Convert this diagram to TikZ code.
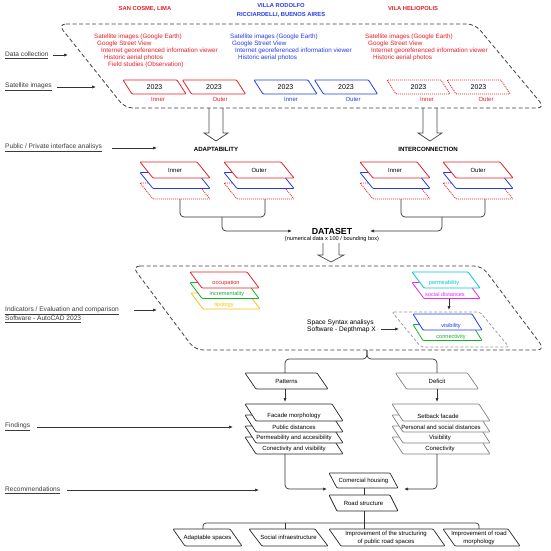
\documentclass[tikz,border=0pt]{standalone}
\usepackage{fontspec}
\setmainfont{Liberation Sans}
\usetikzlibrary{arrows.meta}
\definecolor{myred}{RGB}{232,30,40}
\definecolor{myblue}{RGB}{35,60,240}
\definecolor{mygreen}{RGB}{20,180,40}
\definecolor{myyellow}{RGB}{255,190,20}
\definecolor{mycyan}{RGB}{0,200,210}
\definecolor{mymag}{RGB}{240,40,240}
\definecolor{sidegray}{RGB}{60,60,60}
\newcommand\PG[6]{\filldraw[#1] (#2,#3) -- ++(#4,0) -- ++(#6,#5) -- ++(-#4,0) -- cycle;}
\newcommand\HA[5]{\draw[hollow] (#1,#3) -- (#1,#4) -- ({#1-5},#4) -- ({(#1+#2)/2},#5) -- ({#2+5},#4) -- (#2,#4) -- (#2,#3);}
\tikzset{
 txt/.style={font=\fontsize{6}{7.5}\selectfont, inner sep=0pt, align=center},
 small/.style={font=\fontsize{5.6}{6.5}\selectfont, inner sep=0pt},
 num/.style={font=\fontsize{7}{8}\selectfont, inner sep=0pt},
 lst/.style={font=\fontsize{6.3}{7}\selectfont, inner sep=0pt, anchor=west},
 head/.style={font=\fontsize{5.8}{9}\selectfont\bfseries, inner sep=0pt, align=center},
 side/.style={font=\fontsize{6.6}{9}\selectfont, text=sidegray, inner sep=0pt, anchor=west, align=left},
 conn/.style={draw=black!80, line width=0.7pt},
 arr/.style={conn, -{Latex[length=4pt,width=3.2pt]}},
 bigdash/.style={draw=black!75, line width=0.8pt, dash pattern=on 4pt off 2.5pt, rounded corners=8pt},
 layer/.style={fill=white, line width=0.8pt, rounded corners=0.8pt},
 redl/.style={layer, draw=myred},
 bluel/.style={layer, draw=myblue},
 dotl/.style={layer, draw=myred, dash pattern=on 1pt off 1pt},
 patl/.style={layer, draw=black!85, line width=0.7pt},
 defl/.style={layer, draw=black!50, line width=0.7pt},
 hollow/.style={draw=black!70, line width=0.7pt},
}
\begin{document}
\begin{tikzpicture}[x=1pt,y=-1pt]
\useasboundingbox[fill=white] (0,0) rectangle (550,551);

% ---------- headings ----------
\node[head,text=myred] (hA) at (145,9) {SAN COSME, LIMA};
\node[head,text=myblue] (hB) at (281,10.5) {VILLA RODOLFO\\RICCIARDELLI, BUENOS AIRES};
\node[head,text=myred] (hC) at (413,9) {VILA HELIOPOLIS};

% ---------- first dashed frame ----------
\draw[bigdash] (58,24) -- (475,24) -- (545,108) -- (125,108) -- cycle;

\node[lst,text=myred] (r1a) at (94,37) {Satellite images (Google Earth)};
\node[lst,text=myred] (r1b) at (97,44) {Google Street View};
\node[lst,text=myred] (r1c) at (101,51) {Internet georeferenced information viewer};
\node[lst,text=myred] (r1d) at (104,58) {Historic aerial photos};
\node[lst,text=myred] (r1e) at (108,65) {Field studies (Observation)};
\node[lst,text=myblue] (b1a) at (230,37) {Satellite images (Google Earth)};
\node[lst,text=myblue] (b1b) at (232,44) {Google Street View};
\node[lst,text=myblue] (b1c) at (235,51) {Internet georeferenced information viewer};
\node[lst,text=myblue] (b1d) at (238,58) {Historic aerial photos};
\node[lst,text=myred] (r3a) at (365,37) {Satellite images (Google Earth)};
\node[lst,text=myred] (r3b) at (368,44) {Google Street View};
\node[lst,text=myred] (r3c) at (371,51) {Internet georeferenced information viewer};
\node[lst,text=myred] (r3d) at (373,58) {Historic aerial photos};

% satellite boxes
\PG{redl}{123}{80}{54}{14}{9}
\PG{redl}{182.5}{80}{54}{14}{9}
\PG{bluel}{254}{80}{54}{14}{9}
\PG{bluel}{314.5}{80}{54}{14}{9}
\PG{dotl}{387}{80}{54}{14}{9}
\PG{dotl}{447}{80}{54}{14}{9}
\node[num] (y1) at (154.5,87) {2023};
\node[num] (y2) at (214,87) {2023};
\node[num] (y3) at (285.5,87) {2023};
\node[num] (y4) at (346,87) {2023};
\node[num] (y5) at (418.5,87) {2023};
\node[num] (y6) at (478.5,87) {2023};
\node[txt,text=myred] (i1) at (158,99) {Inner};
\node[txt,text=myred] (o1) at (220,99) {Outer};
\node[txt,text=myblue] (i2) at (291,99) {Inner};
\node[txt,text=myblue] (o2) at (353,99) {Outer};
\node[txt,text=myred] (i3) at (427,99) {Inner};
\node[txt,text=myred] (o3) at (486,99) {Outer};

% hollow arrows
\HA{209}{223}{108}{133}{141}
\HA{423}{437}{108}{133}{141}

% ---------- adaptability / interconnection ----------
\node[head,font=\fontsize{6.1}{7}\selectfont\bfseries] (adapt) at (216,149) {ADAPTABILITY};
\node[head,font=\fontsize{6.1}{7}\selectfont\bfseries] (inter) at (428,149) {INTERCONNECTION};

\foreach \x in {140,224,360,443}{
  \PG{dotl}{\x}{183}{57}{16}{13}
  \PG{bluel}{\x}{172.5}{57}{16}{13}
  \PG{redl}{\x}{162}{57}{16}{13}
}
\node[txt] (aIn) at (175,170) {Inner};
\node[txt] (aOut) at (259,170) {Outer};
\node[txt] (iIn) at (395,170) {Inner};
\node[txt] (iOut) at (478,170) {Outer};

\coordinate (adL) at (180,199);
\coordinate (adR) at (265,199);
\coordinate (adM) at (222,217);
\coordinate (inL) at (401,199);
\coordinate (inR) at (485,199);
\coordinate (inM) at (442,217);
\coordinate (dsL) at (292,231);
\coordinate (dsR) at (370,231);
\draw[conn,rounded corners=4pt] (adL) -- ++(0,18) -| (adR);
\draw[conn,rounded corners=4pt] (inL) -- ++(0,18) -| (inR);
\draw[arr,rounded corners=4pt] (adM) |- (dsL);
\draw[arr,rounded corners=4pt] (inM) |- (dsR);

\node[inner sep=0pt,font=\fontsize{8.8}{10}\selectfont\bfseries] (ds) at (332,231) {DATASET};
\node[small] (dsSub) at (332,239.5) {(numerical data x 100 / bounding box)};
\HA{323}{339}{243}{255}{262}

% ---------- second dashed frame ----------
\draw[bigdash] (132,266) -- (482,266) -- (545,350) -- (195,350) -- cycle;

\PG{layer,draw=myyellow}{191}{293}{57}{16}{12}
\node[small,text=myyellow] (tip) at (224,305) {tipology};
\PG{layer,draw=mygreen}{190}{282.5}{57}{16}{12}
\node[small,text=mygreen] (inc) at (227,294) {incrementality};
\PG{layer,draw=myred}{190}{272}{57}{16}{12}
\node[small,text=myred] (occ) at (226,283) {occupation};

\PG{layer,draw=mymag}{412}{282.5}{56}{16}{12}
\node[small,text=mymag] (soc) at (445,294) {social distances};
\PG{layer,draw=mycyan}{412}{272}{56}{16}{12}
\node[small,text=mycyan] (perm) at (444,283) {permeability};

\coordinate (smA) at (449,298.5);
\coordinate (smB) at (449,310);
\draw[arr] (smA) -- (smB);

\PG{fill=white,draw=black!40,line width=0.7pt,dash pattern=on 3pt off 2pt,rounded corners=2pt}{392}{312}{88}{35}{29}
\PG{layer,draw=mygreen}{413}{324.5}{59}{16}{10}
\node[small,text=mygreen] (con) at (451,337) {connectivity};
\PG{layer,draw=myblue}{413}{314}{59}{16}{10}
\node[small,text=myblue] (vis) at (451,326) {visibility};

\node[inner sep=0pt,anchor=west,align=left,font=\fontsize{6.6}{7.5}\selectfont] (ss) at (307,326.5) {Space Syntax analisys\\Software - Depthmap X};
\coordinate (ssA) at (381,329);
\coordinate (ssB) at (399,329);
\draw[arr] (ssA) -- (ssB);

% ---------- patterns / deficit ----------
\coordinate (br) at (367,350);
\coordinate (patT) at (285,373);
\coordinate (defT) at (437,373);
\draw[conn,rounded corners=4pt] (br) -- ++(0,9) -| (patT);
\draw[conn,rounded corners=4pt] (br) -- ++(0,9) -| (defT);

\PG{patl}{245}{373}{72}{16}{11}
\node[txt] (pat) at (286.5,381) {Patterns};
\PG{defl}{395.5}{373}{72}{16}{11}
\node[txt] (def) at (437,381) {Deficit};

\coordinate (patB) at (285,389);
\coordinate (patS) at (285,402);
\coordinate (defB) at (437,389);
\coordinate (defS) at (437,402);
\draw[arr] (patB) -- (patS);
\draw[arr] (defB) -- (defS);

\PG{patl}{245}{437}{87}{17}{11}
\node[txt] (f4) at (294,449) {Conectivity and visibility};
\PG{patl}{245}{426}{87}{17}{11}
\node[txt] (f3) at (294,438) {Permeability and accesibility};
\PG{patl}{245}{415}{87}{17}{11}
\node[txt] (f2) at (294,427) {Public distances};
\PG{patl}{245}{404}{87}{17}{11}
\node[txt] (f1) at (294,416) {Facade morphology};

\PG{defl}{392}{437}{87}{17}{11}
\node[txt] (d4) at (440,449) {Conectivity};
\PG{defl}{392}{426}{87}{17}{11}
\node[txt] (d3) at (440,438) {Visibility};
\PG{defl}{392}{415}{87}{17}{11}
\node[txt] (d2) at (441,427) {Personal and social distances};
\PG{defl}{392}{404}{87}{17}{11}
\node[txt] (d1) at (438,416) {Setback facade};

\coordinate (pS) at (285,454);
\coordinate (dS) at (437,454);
\coordinate (chL) at (327,489);
\coordinate (chR) at (404,489);
\draw[arr,rounded corners=4pt] (pS) |- (chL);
\draw[arr,rounded corners=4pt] (dS) |- (chR);

% ---------- recommendations ----------
\PG{patl}{329}{473}{61}{15}{8}
\node[txt] (ch) at (363.5,480.5) {Comercial housing};
\PG{patl}{329}{495}{61}{16}{8}
\node[txt] (rs) at (363.5,503) {Road structure};
\coordinate (chB) at (364,488);
\coordinate (rsT) at (364,495);
\coordinate (rsB) at (364,511);
\coordinate (bx1) at (203,529);
\coordinate (bx2) at (285,529);
\coordinate (bx3) at (364,529);
\coordinate (bx4) at (479,529);
\draw[conn] (chB) -- (rsT);
\draw[conn] (rsB) -- (bx3);
\draw[conn,rounded corners=3pt] (bx1) -- ++(0,-6) -| (bx4);
\draw[conn] (bx2) -- ++(0,-6);

\PG{patl}{173}{529}{57}{17}{12}
\node[txt] (r1) at (207.5,537.5) {Adaptable spaces};
\PG{patl}{249}{529}{66}{17}{13}
\node[txt] (r2) at (288.5,537.5) {Social infraestructure};
\PG{patl}{329}{529}{104}{17}{12}
\node[txt,font=\fontsize{6}{8}\selectfont] (r3) at (386,537.5) {Improvement of the structuring\\of public road spaces};
\PG{patl}{443}{529}{65}{17}{12}
\node[txt,font=\fontsize{6}{8}\selectfont] (r4) at (479,537.5) {Improvement of road\\morphology};

% ---------- side labels ----------
\node[side] (lDC) at (5,55) {\underline{Data collection}};
\node[side] (lSI) at (5,87) {\underline{Satellite images}};
\node[side] (lPP) at (5,148) {\underline{Public / Private interface analisys}};
\node[side] (lIN) at (5,314.5) {\underline{Indicators / Evaluation and comparison}\\\underline{Software - AutoCAD 2023}};
\node[side] (lFI) at (5,427) {\underline{Findings}};
\node[side] (lRE) at (5,490) {\underline{Recommendations}};
\coordinate (aDC1) at (53,55);   \coordinate (aDC2) at (68,55);
\coordinate (aSI1) at (57,87);   \coordinate (aSI2) at (96,87);
\coordinate (aPP1) at (112,148); \coordinate (aPP2) at (157,148);
\coordinate (aIN1) at (134,310); \coordinate (aIN2) at (157,310);
\coordinate (aFI1) at (37,427);  \coordinate (aFI2) at (233,427);
\coordinate (aRE1) at (67,490);  \coordinate (aRE2) at (259,490);
\draw[arr] (aDC1) -- (aDC2);
\draw[arr] (aSI1) -- (aSI2);
\draw[arr] (aPP1) -- (aPP2);
\draw[arr] (aIN1) -- (aIN2);
\draw[arr] (aFI1) -- (aFI2);
\draw[arr] (aRE1) -- (aRE2);
\end{tikzpicture}
\end{document}
